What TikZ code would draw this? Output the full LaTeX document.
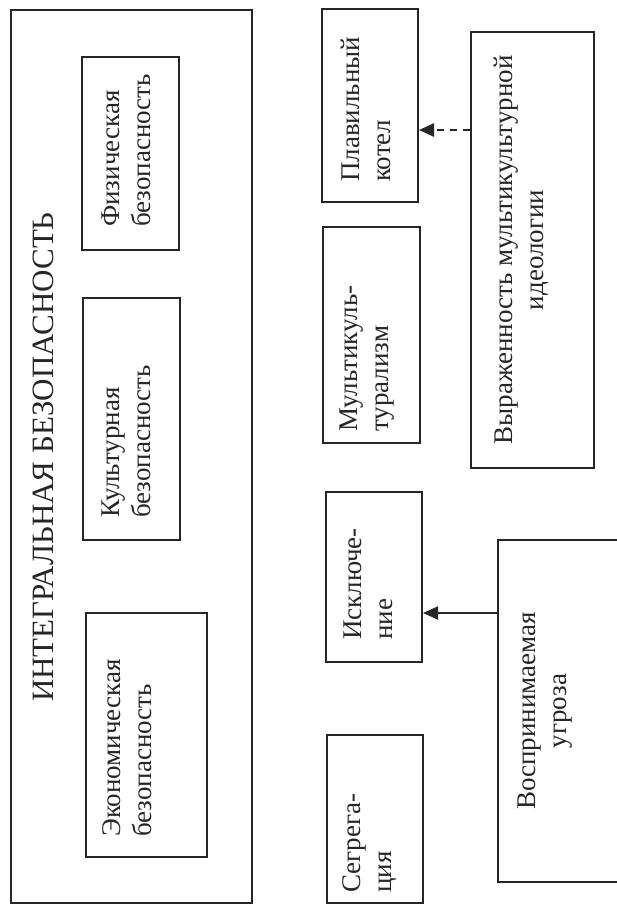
\documentclass[tikz,border=0pt]{standalone}
\usepackage{fontspec}
\setmainfont{Liberation Serif}
\usetikzlibrary{arrows.meta}
\definecolor{ink}{HTML}{262626}
\tikzset{
  box/.style={draw=ink, line width=2pt, inner sep=0pt},
  txt/.style={rotate=90, inner sep=0pt, align=left, text=ink, font=\fontsize{27}{31}\selectfont},
  ttl/.style={rotate=90, inner sep=0pt, text=ink, font=\fontsize{31}{36}\selectfont},
  link/.style={draw=ink, line width=1.8pt, -{Triangle[length=15pt,width=13pt]}},
  dlink/.style={link, line width=2.4pt, dash pattern=on 7pt off 6pt}
}
\begin{document}
\begin{tikzpicture}[x=1pt,y=-1pt]
\clip (0,0) rectangle (617,908);
\fill[white] (0,0) rectangle (617,908);
% outer box
\node[box, line width=2.6pt, minimum width=241pt, minimum height=893pt] (outer) at (131.5,456.5) {};
\node[ttl] (title) at (43,457) {ИНТЕГРАЛЬНАЯ БЕЗОПАСНОСТЬ};
% inner boxes
\node[box, minimum width=97pt, minimum height=193pt] (fiz) at (130.5,153.5) {};
\node[box, minimum width=97pt, minimum height=242pt] (kult) at (131.5,419) {};
\node[box, minimum width=121pt, minimum height=244pt] (econ) at (146.5,735) {};
\node[txt, anchor=west] (tfiz) at (126,227) {Физическая\\безопасность};
\node[txt, anchor=west] (tkult) at (126,518) {Культурная\\безопасность};
\node[txt, anchor=west] (tecon) at (127,837) {Экономическая\\безопасность};
% middle column
\node[box, minimum width=96pt, minimum height=193pt] (kotel) at (370,105.5) {};
\node[box, minimum width=97pt, minimum height=216pt] (multi) at (371.5,335) {};
\node[box, minimum width=96pt, minimum height=170pt] (iskl) at (374,577) {};
\node[box, minimum width=96pt, minimum height=168pt] (segr) at (375,819) {};
\node[txt, anchor=west] (tkotel) at (366,182) {Плавильный\\котел};
\node[txt, anchor=west] (tmulti) at (367,432) {Мультикуль-\\турализм};
\node[txt, anchor=west] (tiskl) at (368,640) {Исключе-\\ние};
\node[txt, anchor=west] (tsegr) at (370,893) {Сегрега-\\ция};
% right column
\node[box, line width=2.4pt, minimum width=123pt, minimum height=436pt] (vyr) at (532.5,250) {};
\node[box, line width=2.4pt, minimum width=142pt, minimum height=342pt] (vosp) at (569,711) {};
\node[txt, align=center] (tvyr) at (521,250) {Выраженность мультикультурной\\идеологии};
\node[txt, align=center] (tvosp) at (545,711) {Воспринимаемая\\угроза};
% connectors
\coordinate (dy) at (0,130);
\coordinate (sy) at (0,613);
\draw[dlink] (vyr.west |- dy) -- (kotel.east |- dy);
\draw[link] (vosp.west |- sy) -- (iskl.east |- sy);
\end{tikzpicture}
\end{document}
